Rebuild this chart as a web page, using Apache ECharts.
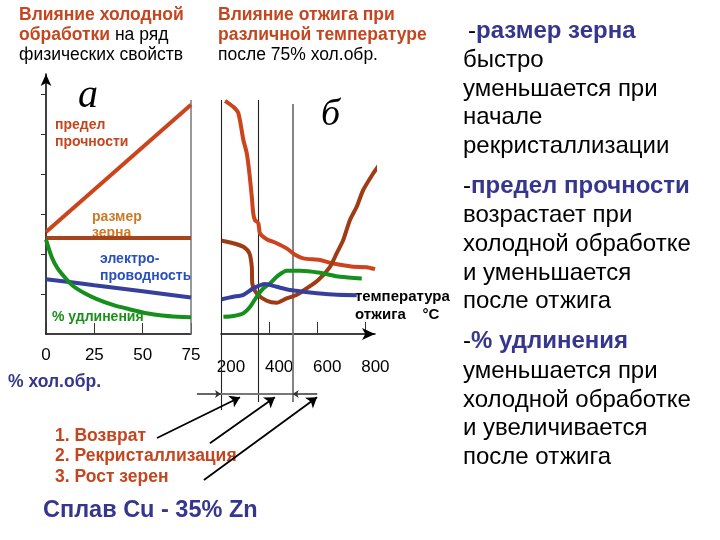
<!DOCTYPE html>
<html><head><meta charset="utf-8">
<script src="https://cdn.jsdelivr.net/npm/echarts@6/dist/echarts.min.js"></script>
<style>html,body{margin:0;padding:0;background:#fff}#c{width:720px;height:540px}</style>
</head><body><div id="c"></div>
<script>
// ---- data: panel "а" (cold work, %) ----
const coldTicks = [0, 25, 50, 75];
const strengthCold = [[0,2.55],[75,5.73]];
const grainCold = [[0,2.4],[75,2.4]];
const conductCold = [[0,1.37],[25,1.22],[50,1.07],[75,0.91]];
const elongCold = [[0,2.36],[3,1.92],[6,1.64],[10,1.4],[14,1.2],[20,1.02],[26,0.88],[35,0.72],[43,0.62],[52,0.52],[60,0.46],[68,0.43],[75,0.42]];
// ---- data: panel "б" (annealing temperature, °C) ----
const tempLabels = [200, 400, 600, 800];
const tempTicks = [400, 600, 800];
const strengthAnneal = [[217,5.83],[251,5.68],[272,5.52],[293,4.85],[307,4.52],[318,4.02],[328,3.43],[334,3.02],[341,2.85],[355,2.77],[362,2.52],[390,2.37],[431,2.27],[473,2.14],[508,1.98],[542,1.89],[611,1.85],[653,1.78],[695,1.73],[750,1.68],[806,1.67],[840,1.62]];
const grainAnneal = [[203,2.33],[251,2.27],[293,2.18],[318,2.02],[328,1.68],[330,1.27],[348,1.02],[390,0.83],[431,0.78],[473,0.89],[515,0.98],[556,1.14],[604,1.35],[653,1.68],[681,2.02],[708,2.35],[736,2.85],[764,3.18],[791,3.6],[833,4.02],[861,4.27],[875,4.6]];
const elongAnneal = [[210,0.43],[251,0.45],[293,0.52],[321,0.68],[348,0.93],[376,1.14],[404,1.27],[431,1.43],[473,1.58],[528,1.58],[611,1.53],[695,1.43],[785,1.39]];
const conductAnneal = [[203,0.87],[251,0.93],[293,0.98],[334,1.14],[383,1.25],[431,1.18],[487,1.1],[570,1.04],[667,0.99],[764,0.97]];
// stage boundaries (°C): recovery / recrystallization / grain growth
const stageBounds = [200, 353, 498];
const stageTargets = [279, 424, 599];

const SANS = '"Liberation Sans", Arial, sans-serif';
const SERIF = '"Liberation Serif", "DejaVu Serif", serif';
const ORANGE = '#c4461e';
const NAVY = '#36368e';

const chart = echarts.init(document.getElementById('c'));

const guideLinesDark = [
  {coords: [[stageBounds[0], 5.85], [stageBounds[0], -1.9]]},
  {coords: [[stageBounds[1], 5.85], [stageBounds[1], -1.7]]}
];
const guideLinesGray = [
  {coords: [[stageBounds[2], 5.75], [stageBounds[2], -1.7]]},
  {coords: [[stageBounds[0], -1.5], [stageBounds[2], -1.5]]}
];
const edgeArrows = [
  {coords: [[100, -1.5], [stageBounds[0], -1.5]]},
  {coords: [[600, -1.5], [stageBounds[2], -1.5]]}
];
const stageArrows = [
  {coords: [[-66, -2.6], [stageTargets[0], -1.58]]},
  {coords: [[154, -2.73], [stageTargets[1], -1.58]]},
  {coords: [[129, -3.65], [stageTargets[2], -1.58]]}
];

function curve(name, data, xi, color, smooth) {
  return {name, type: 'line', xAxisIndex: xi, yAxisIndex: xi, data, showSymbol: false,
    smooth: smooth, clip: false, silent: true, lineStyle: {color, width: 4}, z: 3};
}

const rightLines = [
  ['-', 'размер зерна', 31.7, 468], ['', 'быстро', 60], ['', 'уменьшается при', 89], ['', 'начале', 117], ['', 'рекристаллизации', 146.5],
  ['-', 'предел прочности', 186.5], ['', 'возрастает при', 215], ['', 'холодной обработке', 244.5], ['', 'и уменьшается', 273], ['', 'после отжига', 301.5],
  ['-', '% удлинения', 341.5], ['', 'уменьшается при', 371], ['', 'холодной обработке', 400], ['', 'и увеличивается', 428.5], ['', 'после отжига', 457]
];
const graphics = [];
function txt(x, y, text, font, fill, extra) {
  graphics.push({type: 'text', x, y, silent: true, style: Object.assign({text, font, fill, verticalAlign: 'middle'}, extra || {})});
}
// titles
txt(19, 15, 'Влияние холодной', 'bold 17.5px ' + SANS, ORANGE);
txt(19, 35, '{b|обработки} на ряд', '17.5px ' + SANS, '#000', {rich: {b: {font: 'bold 17.5px ' + SANS, fill: ORANGE}}});
txt(19, 55, 'физических свойств', '17.5px ' + SANS, '#000');
txt(218, 15, 'Влияние отжига при', 'bold 17.5px ' + SANS, ORANGE);
txt(218, 35, 'различной температуре', 'bold 17.5px ' + SANS, ORANGE);
txt(218, 55, 'после 75% хол.обр.', '17.5px ' + SANS, '#000');
// panel letters
txt(78, 96, 'a', 'italic 40px ' + SERIF, '#000');
txt(321, 115, 'б', 'italic 38px ' + SERIF, '#000');
// curve labels
txt(55, 125, 'предел', 'bold 14px ' + SANS, ORANGE);
txt(55, 142, 'прочности', 'bold 14px ' + SANS, ORANGE);
txt(92, 217, 'размер', 'bold 14px ' + SANS, '#cc7a26');
txt(92, 233, 'зерна', 'bold 14px ' + SANS, '#cc7a26');
txt(100, 259, 'электро-', 'bold 14px ' + SANS, '#2a50c0');
txt(100, 276, 'проводность', 'bold 14px ' + SANS, '#2a50c0');
txt(52, 317, '% удлинения', 'bold 14px ' + SANS, '#1a8f1a');
txt(355, 297, 'температура', 'bold 15px ' + SANS, '#000');
txt(355, 315, 'отжига    °С', 'bold 15px ' + SANS, '#000');
txt(8, 382, '% хол.обр.', 'bold 17.5px ' + SANS, NAVY);
txt(55, 436, '1. Возврат', 'bold 17.5px ' + SANS, ORANGE);
txt(55, 456, '2. Рекристаллизация', 'bold 17.5px ' + SANS, ORANGE);
txt(55, 477, '3. Рост зерен', 'bold 17.5px ' + SANS, ORANGE);
txt(43, 511, 'Сплав Cu - 35% Zn', 'bold 23.5px ' + SANS, NAVY);
rightLines.forEach(function (l) {
  const x = l[3] || 463;
  if (l[0]) {
    txt(x, l[2], '-{b|' + l[1] + '}', '24px ' + SANS, '#000', {rich: {b: {font: 'bold 24px ' + SANS, fill: NAVY}}});
  } else {
    txt(x, l[2], l[1], '24px ' + SANS, '#000');
  }
});

chart.setOption({
  animation: false,
  backgroundColor: '#fff',
  grid: [
    {left: 46, top: 74, width: 145, height: 260},
    {left: 221, top: 74, width: 154, height: 260}
  ],
  xAxis: [
    {gridIndex: 0, type: 'value', min: 0, max: 75, interval: 25,
      axisLine: {lineStyle: {color: '#000', width: 1.5}},
      axisTick: {inside: true, length: 11, lineStyle: {color: '#333', width: 1}},
      axisLabel: {margin: 13, fontSize: 17, color: '#000', fontFamily: SANS,
        customValues: coldTicks},
      splitLine: {show: false}},
    {gridIndex: 1, type: 'value', min: 200, max: 840,
      axisLine: {symbol: ['none', 'arrow'], symbolSize: [9, 13], lineStyle: {color: '#000', width: 1.5}},
      axisTick: {inside: true, length: 12, customValues: tempTicks, lineStyle: {color: '#333', width: 1}},
      axisLabel: {margin: 25, fontSize: 17, color: '#000', fontFamily: SANS, padding: [0, 0, 0, 20],
        customValues: tempLabels},
      splitLine: {show: false}}
  ],
  yAxis: [
    {gridIndex: 0, type: 'value', min: 0, max: 6.5,
      axisLine: {show: true, symbol: ['none', 'arrow'], symbolSize: [8, 12], lineStyle: {color: '#000', width: 1.5}},
      axisTick: {show: true, length: 5, customValues: [1, 2, 3, 4, 5, 6], lineStyle: {color: '#333'}},
      axisLabel: {show: false}, splitLine: {show: false}},
    {gridIndex: 1, type: 'value', min: 0, max: 6.5, show: false}
  ],
  series: [
    {type: 'lines', coordinateSystem: 'cartesian2d', xAxisIndex: 0, yAxisIndex: 0, clip: false, silent: true,
      data: [{coords: [[75, 0], [75, 5.85]]}], symbol: 'none', lineStyle: {color: '#777', width: 1.5, opacity: 1}, z: 1},
    {type: 'lines', coordinateSystem: 'cartesian2d', xAxisIndex: 1, yAxisIndex: 1, clip: false, silent: true,
      data: guideLinesDark, symbol: 'none', lineStyle: {color: '#222', width: 1.1, opacity: 1}, z: 1},
    {type: 'lines', coordinateSystem: 'cartesian2d', xAxisIndex: 1, yAxisIndex: 1, clip: false, silent: true,
      data: guideLinesGray, symbol: 'none', lineStyle: {color: '#777', width: 1.8, opacity: 1}, z: 1},
    {type: 'lines', coordinateSystem: 'cartesian2d', xAxisIndex: 1, yAxisIndex: 1, clip: false, silent: true,
      data: edgeArrows, symbol: ['none', 'arrow'], symbolSize: 6, lineStyle: {color: '#333', width: 1.5, opacity: 1}, z: 1},
    {type: 'lines', coordinateSystem: 'cartesian2d', xAxisIndex: 1, yAxisIndex: 1, clip: false, silent: true,
      data: stageArrows, symbol: ['none', 'arrow'], symbolSize: 10, lineStyle: {color: '#000', width: 1.8, opacity: 1}, z: 2},
    curve('предел прочности', strengthCold, 0, '#cc441c', false),
    curve('размер зерна', grainCold, 0, '#a8441c', false),
    curve('электропроводность', conductCold, 0, '#36409c', 0.3),
    curve('% удлинения', elongCold, 0, '#16901c', 0.3),
    curve('предел прочности (отжиг)', strengthAnneal, 1, '#cc441c', 0.25),
    curve('размер зерна (отжиг)', grainAnneal, 1, '#9e3c16', 0.25),
    curve('% удлинения (отжиг)', elongAnneal, 1, '#16901c', 0.25),
    curve('электропроводность (отжиг)', conductAnneal, 1, '#36409c', 0.25)
  ],
  graphic: graphics
});
</script>
</body></html>
